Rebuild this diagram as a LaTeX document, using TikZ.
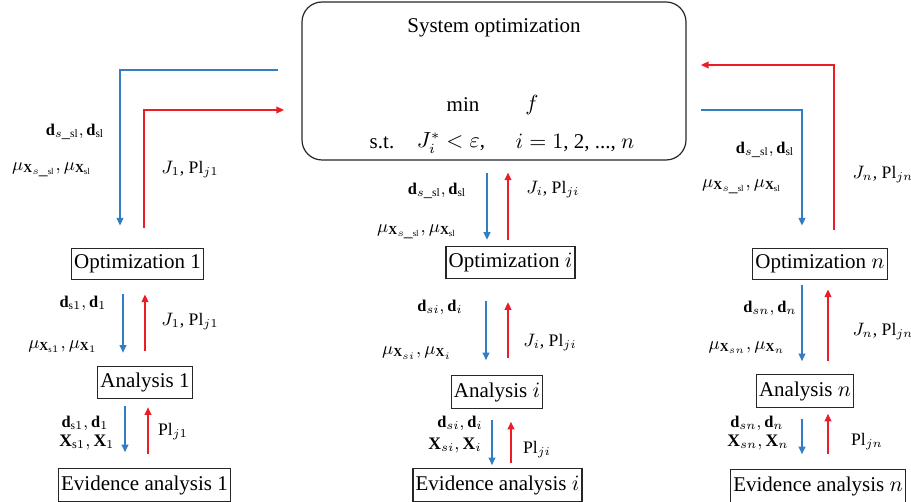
\documentclass[tikz,border=0pt]{standalone}
\usepackage{fontspec}
\setmainfont{Liberation Serif}
\usetikzlibrary{arrows.meta,calc}

\definecolor{flowblue}{RGB}{50,125,195}
\definecolor{flowred}{RGB}{235,30,40}

\begin{document}
\begin{tikzpicture}
[x=0.5pt,y=-0.5pt,%
  font=\fontsize{10.5}{12.6}\selectfont,%
  box/.style={draw=black!85,line width=0.6pt,inner xsep=1.3pt,minimum height=14pt},%
  sysbox/.style={draw=black!85,line width=0.6pt,rounded corners=10pt,minimum width=192pt,minimum height=79pt},%
  lab/.style={font=\fontsize{8.8}{10}\selectfont},%
  dlab/.style={font=\fontsize{8.2}{9.5}\selectfont},%
  dn/.style={flowblue,line width=0.7pt,-{Triangle[length=3.8pt,width=3.4pt]}},%
  up/.style={flowred,line width=0.7pt,-{Triangle[length=3.8pt,width=3.4pt]}}]
\useasboundingbox (0,0) rectangle (911,502);

% system level
\node[sysbox] (sys) at (494,81) {};
\node (title) at (494,28) {System optimization};
\node (min) at (463,105) {min};
\node (obj) at (532,105) {$f$};
\node (st) at (382,143) {s.t.};
\node (con) at (451,143) {$J_i^* < \varepsilon$,};
\node (idx) at (575,143) {$i = 1$, 2, ..., $n$};

% subsystem boxes
\node[box] (opt1) at (137.5,264) {Optimization 1};
\node[box] (ana1) at (145,382.5) {Analysis 1};
\node[box] (ev1) at (144.5,485) {Evidence analysis 1};
\node[box] (opti) at (510.5,262.5) {Optimization $i$};
\node[box] (anai) at (497,392) {Analysis $i$};
\node[box] (evi) at (497.5,485) {Evidence analysis $i$};
\node[box] (optn) at (820,264) {Optimization $n$};
\node[box] (anan) at (805,391) {Analysis $n$};
\node[box] (evn) at (818,486) {Evidence analysis $n$};

% free ends at the system box
\coordinate (sysl1) at (278,70);
\coordinate (sysl2) at (284,110);
\coordinate (sysr1) at (701,65);
\coordinate (sysr2) at (701,110);

% column 1
\draw[dn] (sysl1) -| ($(opt1.north)+(-17.5,-22)$);
\draw[up] ($(opt1.north)+(6.5,-20)$) |- (sysl2);
\draw[dn] ($(opt1.south)+(-14.5,14)$) -- ($(ana1.north)+(-22,-13)$);
\draw[up] ($(ana1.north)+(0,-15)$) -- ($(opt1.south)+(7.5,14)$);
\draw[dn] ($(ana1.south)+(-20,7)$) -- ($(ev1.north)+(-19.5,-16)$);
\draw[up] ($(ev1.north)+(3.5,-14)$) -- ($(ana1.south)+(3,8)$);
\node[dlab] (d1a) at (75,132) {$\mathbf{d}_{s\_\mathrm{sl}}, \mathbf{d}_{\mathrm{sl}}$};
\node[lab] (m1a) at (52,170) {$\mu_{\mathbf{X}_{s\_\mathrm{sl}}}, \mu_{\mathbf{X}_{\mathrm{sl}}}$};
\node[lab] (j1a) at (190,170) {$J_1$, Pl$_{j1}$};
\node[dlab] (d1b) at (83,303) {$\mathbf{d}_{\mathrm{s}1}, \mathbf{d}_1$};
\node[lab] (m1b) at (63,347) {$\mu_{\mathbf{X}_{\mathrm{s}1}}, \mu_{\mathbf{X}_1}$};
\node[lab] (j1b) at (190,322) {$J_1$, Pl$_{j1}$};
\node[dlab] (d1c) at (85,423) {$\mathbf{d}_{\mathrm{s}1}, \mathbf{d}_1$};
\node[lab] (x1c) at (87,442) {$\mathbf{X}_{\mathrm{s}1}, \mathbf{X}_1$};
\node[lab] (p1c) at (173,432) {Pl$_{j1}$};

% column i
\draw[dn] ($(sys.south)+(-7,12)$) -- ($(opti.north)+(-23.5,-6)$);
\draw[up] ($(opti.north)+(-2.5,-6)$) -- ($(sys.south)+(14,12)$);
\draw[dn] ($(opti.south)+(-24.5,22)$) -- ($(anai.north)+(-11,-15)$);
\draw[up] ($(anai.north)+(11,-17)$) -- ($(opti.south)+(-2.5,23)$);
\draw[dn] ($(anai.south)+(-5,11)$) -- ($(evi.north)+(-5.5,-3)$);
\draw[up] ($(evi.north)+(13.5,-5)$) -- ($(anai.south)+(14,13)$);
\node[dlab] (dia) at (437,191) {$\mathbf{d}_{s\_\mathrm{sl}}, \mathbf{d}_{\mathrm{sl}}$};
\node[lab] (mia) at (417,232) {$\mu_{\mathbf{X}_{s\_\mathrm{sl}}}, \mu_{\mathbf{X}_{\mathrm{sl}}}$};
\node[lab] (jia) at (553,190) {$J_i$, Pl$_{ji}$};
\node[dlab] (dib) at (440,307) {$\mathbf{d}_{si}, \mathbf{d}_i$};
\node[lab] (mib) at (417,353) {$\mu_{\mathbf{X}_{si}}, \mu_{\mathbf{X}_i}$};
\node[lab] (jib) at (550,343) {$J_i$, Pl$_{ji}$};
\node[dlab] (dic) at (460,423) {$\mathbf{d}_{si}, \mathbf{d}_i$};
\node[lab] (xic) at (455,445) {$\mathbf{X}_{si}, \mathbf{X}_i$};
\node[lab] (pic) at (537,450) {Pl$_{ji}$};

% column n
\draw[up] ($(optn.north)+(14,-18)$) |- (sysr1);
\draw[dn] (sysr2) -| ($(optn.north)+(-18,-22)$);
\draw[dn] ($(optn.south)+(-18,5)$) -- ($(anan.north)+(-3,-13)$);
\draw[up] ($(anan.north)+(23,-13)$) -- ($(optn.south)+(8,9)$);
\draw[dn] ($(anan.south)+(-3,11)$) -- ($(evn.north)+(-16,-15)$);
\draw[up] ($(evn.north)+(10,-15)$) -- ($(anan.south)+(23,6)$);
\node[dlab] (dna) at (765,150) {$\mathbf{d}_{s\_\mathrm{sl}}, \mathbf{d}_{\mathrm{sl}}$};
\node[lab] (mna) at (742,187) {$\mu_{\mathbf{X}_{s\_\mathrm{sl}}}, \mu_{\mathbf{X}_{\mathrm{sl}}}$};
\node[lab] (jna) at (883,175) {$J_n$, Pl$_{jn}$};
\node[dlab] (dnb) at (770,308) {$\mathbf{d}_{sn}, \mathbf{d}_n$};
\node[lab] (mnb) at (747,348) {$\mu_{\mathbf{X}_{sn}}, \mu_{\mathbf{X}_n}$};
\node[lab] (jnb) at (883,332) {$J_n$, Pl$_{jn}$};
\node[dlab] (dnc) at (757,423) {$\mathbf{d}_{sn}, \mathbf{d}_n$};
\node[lab] (xnc) at (758,442) {$\mathbf{X}_{sn}, \mathbf{X}_n$};
\node[lab] (pnc) at (867,442) {Pl$_{jn}$};
\end{tikzpicture}
\end{document}
